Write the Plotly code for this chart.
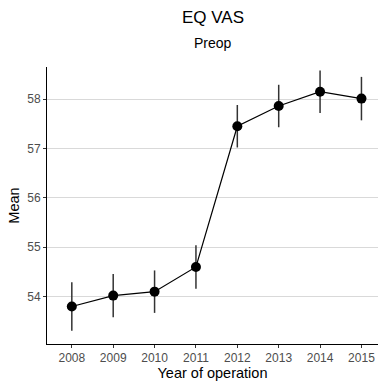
import plotly.graph_objects as go

years = [2008, 2009, 2010, 2011, 2012, 2013, 2014, 2015]
means = [53.80, 54.02, 54.10, 54.60, 57.45, 57.86, 58.15, 58.01]
errors = [0.49, 0.44, 0.43, 0.44, 0.43, 0.43, 0.43, 0.44]

fig = go.Figure()
fig.add_trace(go.Scatter(
    x=years, y=means, mode="lines+markers",
    line=dict(color="black", width=1.2),
    marker=dict(color="black", size=10),
    error_y=dict(type="data", array=errors, visible=True, width=0,
                 thickness=1.5, color="#333333"),
    showlegend=False,
))

fig.update_layout(
    width=380, height=381,
    margin=dict(l=47, r=2, t=67, b=37),
    paper_bgcolor="white", plot_bgcolor="white",
    font=dict(family="Liberation Sans, Arial, sans-serif", color="black"),
    annotations=[
        dict(text="EQ VAS", x=0.5, xref="paper", xanchor="center",
             y=1.177, yref="paper", yanchor="middle", showarrow=False,
             font=dict(size=17, color="black")),
        dict(text="Preop", x=0.5, xref="paper", xanchor="center",
             y=1.087, yref="paper", yanchor="middle", showarrow=False,
             font=dict(size=14, color="black")),
    ],
)
fig.update_xaxes(
    range=[2007.4, 2015.4],
    tickvals=years, ticktext=[str(y) for y in years],
    showline=True, linecolor="black", linewidth=1,
    ticks="outside", ticklen=3, tickcolor="#333333",
    showgrid=False, zeroline=False,
    tickfont=dict(size=12, color="#4d4d4d"),
    title=dict(text="Year of operation", font=dict(size=14.5, color="black"), standoff=2),
)
fig.update_yaxes(
    range=[53.04, 58.65],
    tickvals=[54, 55, 56, 57, 58],
    showline=True, linecolor="black", linewidth=1,
    ticks="outside", ticklen=3, tickcolor="#333333",
    showgrid=True, gridcolor="#d9d9d9", gridwidth=1, zeroline=False,
    tickfont=dict(size=12, color="#4d4d4d"),
    title=dict(text="Mean", font=dict(size=14.5, color="black"), standoff=4),
)

fig.write_html("out.html")
